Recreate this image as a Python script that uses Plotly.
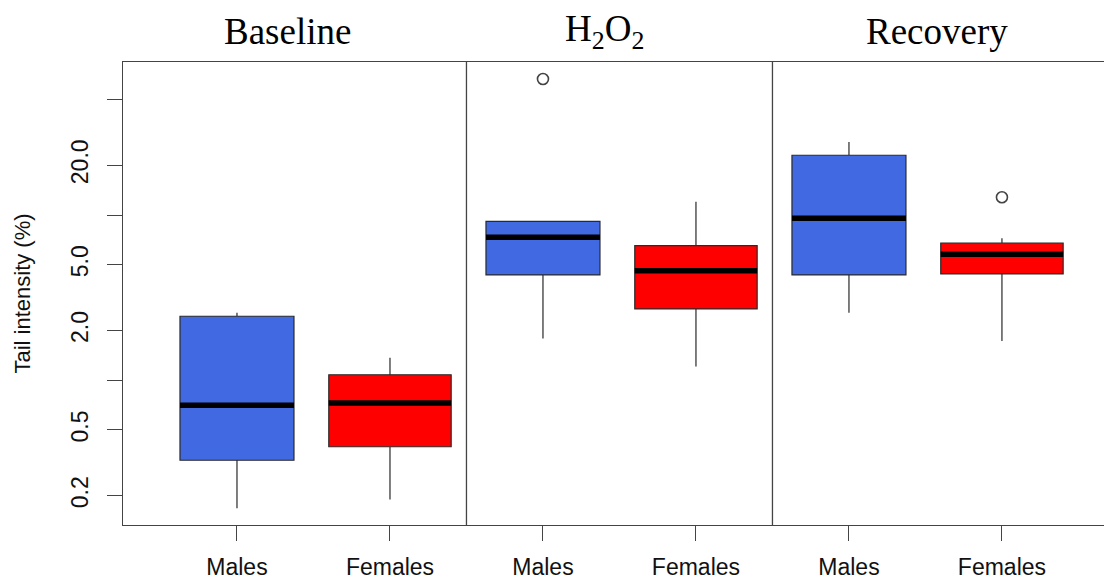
import plotly.graph_objects as go

# Comet assay tail intensity (%) by phase and sex
phases = ["Baseline", "H<sub>2</sub>O<sub>2</sub>", "Recovery"]
sexes = ["Males", "Females", "Males", "Females", "Males", "Females"]
positions = [1, 2, 3, 4, 5, 6]

q1 = [0.328, 0.396, 4.34, 2.70, 4.34, 4.40]
median = [0.705, 0.728, 7.33, 4.60, 9.55, 5.78]
q3 = [2.44, 1.08, 9.16, 6.52, 23.0, 6.75]
lower_whisker = [0.168, 0.19, 1.79, 1.21, 2.56, 1.73]
upper_whisker = [2.56, 1.37, 9.16, 12.04, 27.7, 7.23]

outlier_pos = [3, 6]
outlier_val = [66.5, 12.8]

y_ticks = [0.2, 0.5, 2, 5, 20]
y_tick_text = ["0.2", "0.5", "2.0", "5.0", "20.0"]
y_unlabelled_ticks = [1, 10, 50]

fill = {"Males": "#4169E1", "Females": "#FF0000"}
box_width = {"Males": 0.745, "Females": 0.80}
edge = "#2a2a2a"
axis_col = "#444444"
sans = "Liberation Sans, Arial, sans-serif"
serif = "Liberation Serif, Times New Roman, serif"

fig = go.Figure()

for i, p in enumerate(positions):
    s = sexes[i]
    fig.add_trace(go.Box(
        x=[p], q1=[q1[i]], median=[median[i]], q3=[q3[i]],
        lowerfence=[lower_whisker[i]], upperfence=[upper_whisker[i]],
        width=box_width[s], fillcolor=fill[s],
        line=dict(color=edge, width=1.2), whiskerwidth=0,
        boxpoints=False, showlegend=False, hoverinfo="skip",
    ))

# heavy median bars drawn over each box
for i, p in enumerate(positions):
    half = box_width[sexes[i]] / 2
    fig.add_trace(go.Scatter(
        x=[p - half, p + half], y=[median[i], median[i]], mode="lines",
        line=dict(color="black", width=5.5), showlegend=False, hoverinfo="skip",
    ))

fig.add_trace(go.Scatter(
    x=outlier_pos, y=outlier_val, mode="markers",
    marker=dict(symbol="circle-open", size=11, color="#444444", line=dict(width=1.6)),
    showlegend=False, hoverinfo="skip",
))

# panel separators
for xs in (2.5, 4.5):
    fig.add_shape(type="line", xref="x", yref="paper", x0=xs, x1=xs, y0=0, y1=1,
                  line=dict(color=axis_col, width=1.3))

# panel headings
title_x = [1.33, 3.405, 5.578]
for tx, name in zip(title_x, phases):
    fig.add_annotation(x=tx, y=1.0, xref="x", yref="paper", yshift=31,
                       text=name, showarrow=False, xanchor="center", yanchor="middle",
                       font=dict(family=serif, size=37, color="black"))

fig.update_layout(
    width=1104, height=581,
    margin=dict(l=123, r=0, t=62, b=56),
    paper_bgcolor="white", plot_bgcolor="white",
    xaxis=dict(
        range=[0.255, 6.667], tickmode="array", tickvals=positions, ticktext=sexes,
        showgrid=False, zeroline=False, showline=True, mirror=True,
        linecolor=axis_col, linewidth=1.3, ticks="outside", ticklen=15,
        tickcolor=axis_col, tickwidth=1.3,
        tickfont=dict(family=sans, size=23, color="#111111"), ticklabelstandoff=6,
    ),
    yaxis=dict(
        type="log", range=[-0.876, 1.926], tickmode="array",
        tickvals=y_ticks, ticktext=y_tick_text, tickangle=-90,
        showgrid=False, zeroline=False, showline=True, mirror=False,
        linecolor=axis_col, linewidth=1.3, ticks="outside", ticklen=15,
        tickcolor=axis_col, tickwidth=1.3,
        minor=dict(tickmode="array", tickvals=y_unlabelled_ticks, ticks="outside",
                   ticklen=15, tickcolor=axis_col, tickwidth=1.3, showgrid=False),
        tickfont=dict(family=sans, size=23, color="#111111"), ticklabelstandoff=10,
        title=dict(text="Tail intensity (%)", standoff=29,
                   font=dict(family=sans, size=22, color="#111111")),
    ),
)

fig.write_html("out.html")
